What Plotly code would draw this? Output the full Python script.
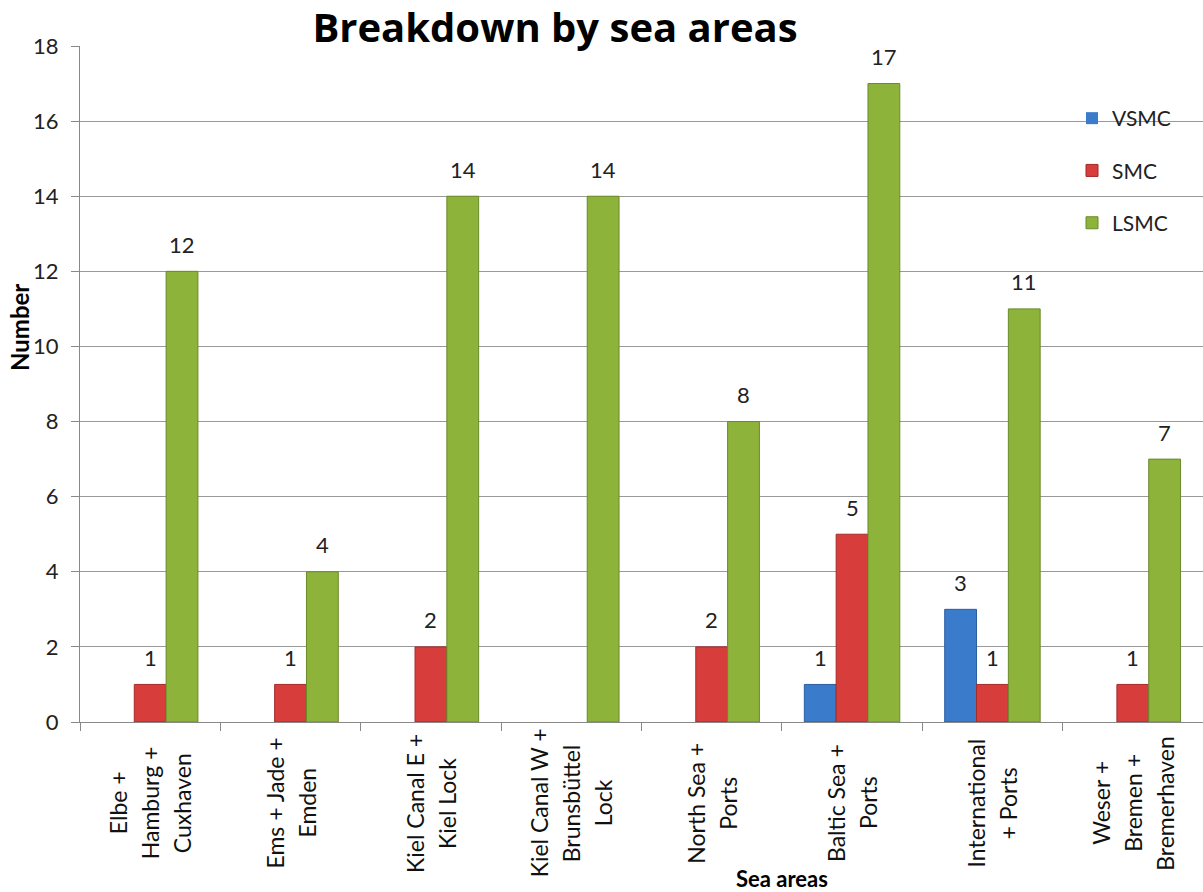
import plotly.graph_objects as go

categories = ["Elbe +<br>Hamburg +<br>Cuxhaven", "Ems + Jade +<br>Emden", "Kiel Canal E +<br>Kiel Lock",
              "Kiel Canal W +<br>Brunsbüttel<br>Lock", "North Sea +<br>Ports", "Baltic Sea +<br>Ports",
              "International<br>+ Ports", "Weser +<br>Bremen +<br>Bremerhaven"]
cat_keys = ["c%d" % i for i in range(len(categories))]
vsmc = [0, 0, 0, 0, 0, 1, 3, 0]
smc = [1, 1, 2, 0, 2, 5, 1, 1]
lsmc = [12, 4, 14, 14, 8, 17, 11, 7]
series_names = ["VSMC", "SMC", "LSMC"]
y_ticks = [0, 2, 4, 6, 8, 10, 12, 14, 16, 18]

FONT = "Lato"
colors = ["#3B7BCC", "#D63D3B", "#8DB33B"]
lines = ["#2A5E9E", "#A52B29", "#6B8A28"]

W, H = 1203, 892
ML, MR, MT, MB = 80, 0, 46, 170
PW, PH = W - ML - MR, H - MT - MB
BARGAP = 0.32
cat_w = PW / len(categories)
bar_w = cat_w * (1 - BARGAP) / 3

fig = go.Figure()
annotations = []
for si, (name, vals, c, lc) in enumerate(zip(series_names, [vsmc, smc, lsmc], colors, lines)):
    fig.add_trace(go.Bar(
        x=cat_keys, y=vals, name=name, legendgroup=name,
        marker=dict(color=c, line=dict(color=lc, width=[1 if v else 0 for v in vals])),
    ))
    for k, v in zip(cat_keys, vals):
        if v:
            annotations.append(dict(x=k, xref="x", y=v, yref="y", text=str(v), showarrow=False,
                                    xshift=(si - 1) * bar_w, yshift=27, xanchor="center", yanchor="middle",
                                    font=dict(family=FONT, size=22, color="#222")))

LINE_SP = 32
for k, lab in zip(cat_keys, categories):
    parts = lab.split("<br>")
    n = len(parts)
    for i, p in enumerate(parts):
        annotations.append(dict(x=k, xref="x", y=(MB - 803 + (H - MB)) / PH * 0 + (H - MB - 803) / PH,
                                yref="paper", text=p, showarrow=False, textangle=-90,
                                xshift=(i - (n - 1) / 2) * LINE_SP, xanchor="center", yanchor="middle",
                                font=dict(family=FONT, size=23, color="#111")))

annotations.append(dict(text="<b>Number</b>", x=(19 - ML) / PW, xref="paper", y=(H - MB - 328) / PH,
                        yref="paper", textangle=-90, showarrow=False,
                        font=dict(family=FONT, size=24, color="#000"), xanchor="center", yanchor="middle"))
annotations.append(dict(text="<b>Sea areas</b>", x=(782 - ML) / PW, xref="paper", y=(H - MB - 878) / PH,
                        yref="paper", showarrow=False, font=dict(family=FONT, size=22, color="#000"),
                        xanchor="center", yanchor="middle"))

fig.update_layout(
    width=W, height=H,
    margin=dict(l=ML, r=MR, t=MT, b=MB),
    paper_bgcolor="white", plot_bgcolor="white",
    barmode="group", bargap=BARGAP, bargroupgap=0,
    title=dict(text="<b>Breakdown by sea areas</b>", x=555 / W, xanchor="center",
               y=1 - 28 / H, yanchor="middle", font=dict(family="Open Sans", size=40, color="#000")),
    legend=dict(x=(1072 - ML) / PW, y=(H - MB - 98) / PH, xanchor="left", yanchor="top",
                bgcolor="rgba(0,0,0,0)", font=dict(family=FONT, size=21, color="#222"),
                tracegroupgap=22, itemwidth=30),
    annotations=annotations,
    showlegend=True,
)
fig.update_xaxes(showticklabels=False, showline=True, linecolor="#888", linewidth=1,
                 ticks="outside", tickson="boundaries", ticklen=8, tickcolor="#888",
                 showgrid=False)
fig.update_yaxes(range=[0, 18], tickvals=y_ticks, showgrid=True, gridcolor="#999", gridwidth=1,
                 showline=True, linecolor="#888", ticks="outside", ticklen=8, tickcolor="#888",
                 ticklabelstandoff=8,
                 tickfont=dict(family=FONT, size=22, color="#222"), zeroline=False)

fig.write_html("out.html")
